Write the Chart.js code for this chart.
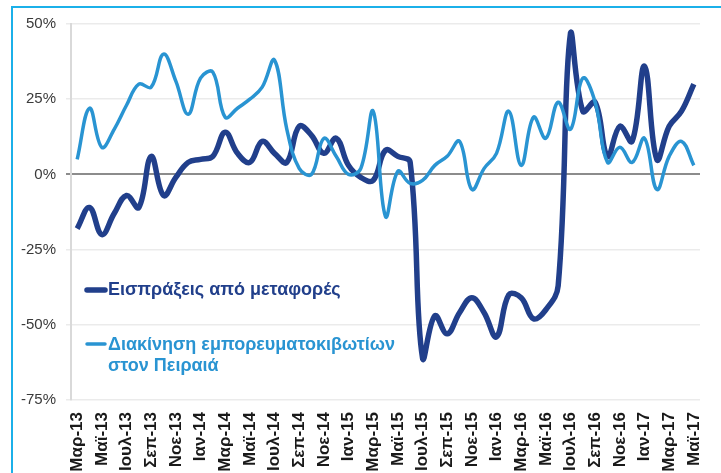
<!DOCTYPE html>
<html>
<head>
<meta charset="utf-8">
<script src="https://cdn.jsdelivr.net/npm/chart.js@4"></script>
<style>
    html, body { margin: 0; padding: 0; background: #fff; overflow: hidden; }
    #moldura { position: absolute; left: 11px; top: 6px; width: 800px; height: 600px;
               border-top: 2px solid #1bb0e9; border-left: 2px solid #1bb0e9; }
    #grafico { position: absolute; left: 0; top: 0; }
</style>
</head>
<body>
<div id="moldura"></div>
<canvas id="grafico" width="721" height="520"></canvas>
<script>
    // meses: Μαρ-13 ... Μαϊ-17
    const meses = [
        'Μαρ-13', 'Απρ-13', 'Μαϊ-13', 'Ιουν-13', 'Ιουλ-13', 'Αυγ-13', 'Σεπ-13', 'Οκτ-13', 'Νοε-13', 'Δεκ-13',
        'Ιαν-14', 'Φεβ-14', 'Μαρ-14', 'Απρ-14', 'Μαϊ-14', 'Ιουν-14', 'Ιουλ-14', 'Αυγ-14', 'Σεπ-14', 'Οκτ-14', 'Νοε-14', 'Δεκ-14',
        'Ιαν-15', 'Φεβ-15', 'Μαρ-15', 'Απρ-15', 'Μαϊ-15', 'Ιουν-15', 'Ιουλ-15', 'Αυγ-15', 'Σεπ-15', 'Οκτ-15', 'Νοε-15', 'Δεκ-15',
        'Ιαν-16', 'Φεβ-16', 'Μαρ-16', 'Απρ-16', 'Μαϊ-16', 'Ιουν-16', 'Ιουλ-16', 'Αυγ-16', 'Σεπ-16', 'Οκτ-16', 'Νοε-16', 'Δεκ-16',
        'Ιαν-17', 'Φεβ-17', 'Μαρ-17', 'Απρ-17', 'Μαϊ-17',
    ];

    const eisprakseis = [
        -18, -11, -20, -13, -7, -11, 6, -7, -1, 4,
        5, 6, 14, 7, 4, 11, 7, 4, 16, 13,
        7, 12, 3, -1, -2, 8, 6, 4, -61, -47,
        -53, -46, -41, -46, -54, -40, -41, -48, -45, -37,
        47, 21, 24, 6, 16, 11, 36, 5, 16, 21, 30,
    ];

    const diakinisi = [
        5, 22, 9, 15, 23, 30, 29, 40, 31, 20,
        32, 34, 19, 22, 25, 29, 38, 15, 2, 0,
        12, 6, 0, 2, 21, -14, 1, -3, -2, 3,
        6, 11, -5, 2, 7, 21, 3, 19, 12, 24,
        15, 32, 24, 4, 9, 4, 12, -5, 6, 11, 3,
    ];

    const yTicks = [50, 25, 0, -25, -50, -75];

    const legendas = [
        ['Εισπράξεις από μεταφορές'],
        ['Διακίνηση εμπορευματοκιβωτίων', 'στον Πειραιά'],
    ];

    const corEscura = '#213f8b';
    const corClara = '#2994d2';

    // legenda dentro da area do grafico
    const legendaPlugin = {
        id: 'legenda',
        afterDraw(chart) {
            const ctx = chart.ctx;
            ctx.save();
            ctx.lineCap = 'round';
            ctx.textBaseline = 'middle';
            ctx.font = 'bold 18px "Liberation Sans", Arial, sans-serif';

            ctx.strokeStyle = corEscura;
            ctx.lineWidth = 5.5;
            ctx.beginPath();
            ctx.moveTo(87, 290);
            ctx.lineTo(105, 290);
            ctx.stroke();
            ctx.fillStyle = corEscura;
            ctx.fillText(legendas[0][0], 108, 290);

            ctx.strokeStyle = corClara;
            ctx.lineWidth = 3.5;
            ctx.beginPath();
            ctx.moveTo(87, 344);
            ctx.lineTo(105, 344);
            ctx.stroke();
            ctx.fillStyle = corClara;
            ctx.fillText(legendas[1][0], 108, 345);
            ctx.fillText(legendas[1][1], 108, 366);
            ctx.restore();
        }
    };

    const data = {
        labels: meses,
        datasets: [{
            label: legendas[0][0],
            data: eisprakseis,
            borderColor: corEscura,
            backgroundColor: corEscura,
            borderWidth: 5.5,
            tension: 0.4,
            pointRadius: 0,
            order: 2,
        },
        {
            label: legendas[1].join(' '),
            data: diakinisi,
            borderColor: corClara,
            backgroundColor: corClara,
            borderWidth: 3.5,
            tension: 0.4,
            pointRadius: 0,
            order: 1,
        }]
    };

    const config = {
        type: 'line',
        data: data,
        options: {
            responsive: false,
            animation: false,
            layout: { padding: { top: 24, right: 21, left: 0, bottom: 0 } },
            plugins: {
                legend: { display: false },
                tooltip: { enabled: false },
            },
            scales: {
                x: {
                    offset: true,
                    grid: { display: false },
                    border: { display: false },
                    ticks: {
                        autoSkip: false,
                        minRotation: 90,
                        maxRotation: 90,
                        padding: 4,
                        color: '#1a1a1a',
                        font: { family: '"Liberation Sans", Arial, sans-serif', size: 17, weight: 'bold' },
                        callback: function (v, i) { return i % 2 === 0 ? meses[i] : ''; },
                    },
                    afterFit: function (s) { s.height = 120; },
                },
                y: {
                    min: -75,
                    max: 50,
                    afterBuildTicks: function (s) { s.ticks = yTicks.map(v => ({ value: v })); },
                    grid: {
                        color: c => c.tick && c.tick.value === 0 ? '#8c8c8c' : '#ebebeb',
                        lineWidth: c => c.tick && c.tick.value === 0 ? 2 : 1.5,
                        tickLength: 5,
                    },
                    border: { color: '#d9d9d9', width: 2 },
                    ticks: {
                        padding: 10,
                        color: '#3a3a3a',
                        font: { family: '"Liberation Sans", Arial, sans-serif', size: 15 },
                        callback: v => v + '%',
                    },
                    afterFit: function (s) { s.width = 71; },
                },
            },
        },
        plugins: [legendaPlugin],
    };

    const grafico = new Chart(
        document.getElementById('grafico'),
        config
    );
</script>
</body>
</html>
